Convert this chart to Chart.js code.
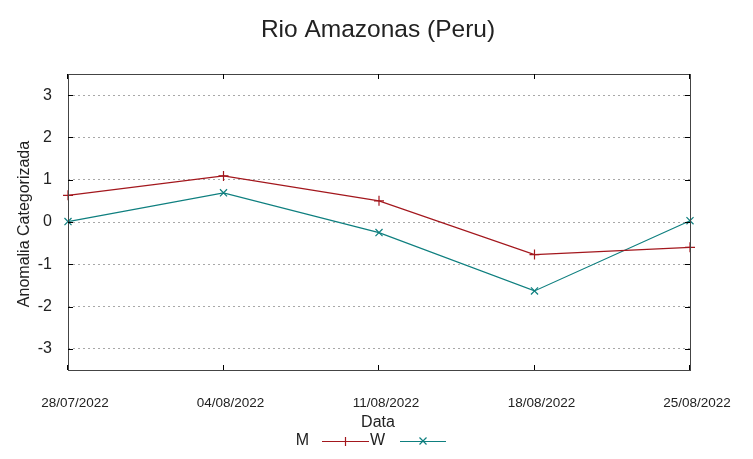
<!DOCTYPE html>
<html>
<head>
<meta charset="utf-8">
<script src="https://cdn.jsdelivr.net/npm/chart.js@4/dist/chart.umd.min.js"></script>
<style>
html,body{margin:0;padding:0;background:#fff;}
#wrap{position:relative;width:753px;height:459px;}
</style>
</head>
<body>
<div id="wrap"><canvas id="c" width="753" height="459"></canvas></div>
<script>
const chartTitle = "Rio Amazonas (Peru)";
const xTitle = "Data";
const yTitle = "Anomalia Categorizada";
const categories = ["28/07/2022", "04/08/2022", "11/08/2022", "18/08/2022", "25/08/2022"];
const seriesM = [0.63, 1.09, 0.50, -0.77, -0.60];
const seriesW = [0.01, 0.69, -0.25, -1.63, 0.03];
const yTicks = [-3, -2, -1, 0, 1, 2, 3];
const colorM = "#a3171d";
const colorW = "#0e7f7f";
const FONT = "'Liberation Sans', Arial, sans-serif";

const L = 68, R = 690, T = 74, B = 370, W = 753, H = 459;

const decor = {
  id: 'decor',
  afterDatasetsDraw(chart) {
    const ctx = chart.ctx;
    const a = chart.chartArea;
    const xs = chart.scales.x, ys = chart.scales.y;
    ctx.save();
    // border
    ctx.strokeStyle = '#444';
    ctx.lineWidth = 1;
    ctx.strokeRect(Math.round(a.left) + 0.5, Math.round(a.top) + 0.5, Math.round(a.right - a.left), Math.round(a.bottom - a.top));
    // tick marks inward
    ctx.strokeStyle = '#000';
    ctx.beginPath();
    yTicks.forEach(v => {
      const y = Math.round(ys.getPixelForValue(v)) + 0.5;
      ctx.moveTo(a.left, y); ctx.lineTo(a.left + 5, y);
      ctx.moveTo(a.right, y); ctx.lineTo(a.right - 5, y);
    });
    categories.forEach((c, i) => {
      const x = Math.round(xs.getPixelForValue(i)) - 0.5;
      ctx.moveTo(x, a.bottom); ctx.lineTo(x, a.bottom - 5);
      ctx.moveTo(x, a.top); ctx.lineTo(x, a.top + 5);
    });
    ctx.stroke();
    // title
    ctx.fillStyle = '#222';
    ctx.textAlign = 'center';
    ctx.textBaseline = 'middle';
    ctx.font = '24.5px ' + FONT;
    ctx.fillText(chartTitle, 378, 30);
    // x title
    ctx.font = '16px ' + FONT;
    ctx.fillText(xTitle, 378, 423);
    // y title
    ctx.save();
    ctx.translate(25, 224);
    ctx.rotate(-Math.PI / 2);
    ctx.fillText(yTitle, 0, 0);
    ctx.restore();
    // legend
    const ly = 441;
    ctx.textAlign = 'center';
    ctx.fillText('M', 302.5, ly);
    ctx.fillText('W', 377.5, ly);
    ctx.lineWidth = 1.2;
    ctx.strokeStyle = colorM;
    ctx.beginPath();
    ctx.moveTo(322, ly + 0.5); ctx.lineTo(369, ly + 0.5);
    ctx.moveTo(345.5, ly - 4); ctx.lineTo(345.5, ly + 5);
    ctx.stroke();
    ctx.strokeStyle = colorW;
    ctx.beginPath();
    ctx.moveTo(400, ly + 0.5); ctx.lineTo(446, ly + 0.5);
    ctx.moveTo(419.5, ly - 3.5); ctx.lineTo(426.5, ly + 3.5);
    ctx.moveTo(426.5, ly - 3.5); ctx.lineTo(419.5, ly + 3.5);
    ctx.stroke();
    ctx.restore();
  }
};

new Chart(document.getElementById('c'), {
  type: 'line',
  data: {
    labels: categories,
    datasets: [
      {
        label: 'M', data: seriesM, borderColor: colorM, backgroundColor: colorM,
        borderWidth: 1.2, pointStyle: 'cross', pointRadius: 5, pointBorderWidth: 1.2,
        pointBorderColor: colorM, tension: 0, fill: false
      },
      {
        label: 'W', data: seriesW, borderColor: colorW, backgroundColor: colorW,
        borderWidth: 1.2, pointStyle: 'crossRot', pointRadius: 5, pointBorderWidth: 1.2,
        pointBorderColor: colorW, tension: 0, fill: false
      }
    ]
  },
  options: {
    responsive: false,
    animation: false,
    devicePixelRatio: 1,
    layout: { padding: { left: 0, right: W - R, top: T, bottom: 0 } },
    plugins: { legend: { display: false }, title: { display: false }, tooltip: { enabled: false } },
    scales: {
      x: {
        type: 'category',
        offset: false,
        grid: { display: false, drawTicks: false },
        border: { display: false },
        ticks: { color: '#222', font: { family: FONT, size: 13.5 }, padding: 25, labelOffset: 7, maxRotation: 0, autoSkip: false },
        afterFit(s) { s.height = H - B; }
      },
      y: {
        min: -3.5, max: 3.5,
        grid: { color: '#a8a8a8', lineWidth: 1, drawTicks: false },
        border: { display: false, dash: [2, 3] },
        ticks: { color: '#222', font: { family: FONT, size: 16 }, padding: 16 },
        afterBuildTicks(s) { s.ticks = yTicks.map(v => ({ value: v })); },
        afterFit(s) { s.width = L; }
      }
    }
  },
  plugins: [decor]
});
</script>
</body>
</html>
